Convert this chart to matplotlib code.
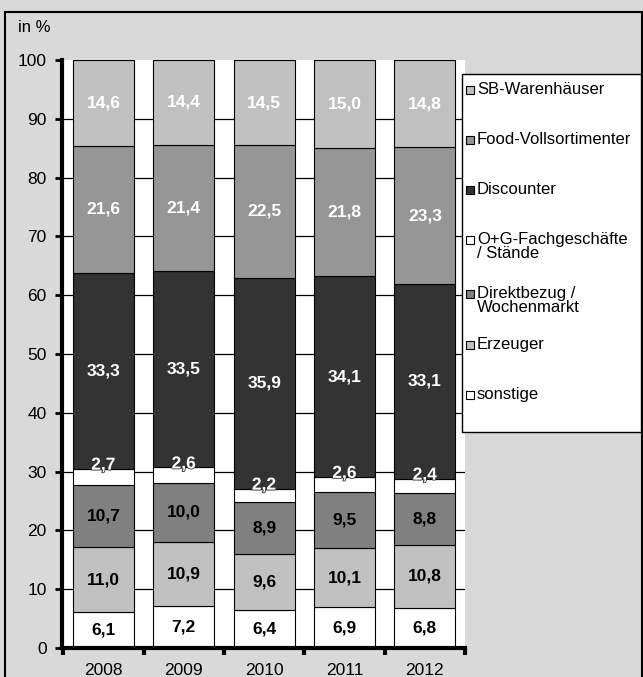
"""Stacked shares of fruit & vegetable purchases by retail channel, 2008-2012."""
import matplotlib.pyplot as plt
import matplotlib.patheffects as pe
from matplotlib.patches import Rectangle
import numpy as np

plt.rcParams["font.family"] = ["Liberation Sans", "DejaVu Sans"]

BACKGROUND = "#d9d9d9"

years = ["2008", "2009", "2010", "2011", "2012"]
sonstige = [6.1, 7.2, 6.4, 6.9, 6.8]
erzeuger = [11.0, 10.9, 9.6, 10.1, 10.8]
direktbezug = [10.7, 10.0, 8.9, 9.5, 8.8]
og_fach = [2.7, 2.6, 2.2, 2.6, 2.4]
discounter = [33.3, 33.5, 35.9, 34.1, 33.1]
food_voll = [21.6, 21.4, 22.5, 21.8, 23.3]
sb_waren = [14.6, 14.4, 14.5, 15.0, 14.8]

# bottom -> top
series = [
    ("sonstige", sonstige, "#ffffff", "black"),
    ("Erzeuger", erzeuger, "#c0c0c0", "black"),
    ("Direktbezug /\nWochenmarkt", direktbezug, "#808080", "black"),
    ("O+G-Fachgeschäfte\n/ Stände", og_fach, "#ffffff", "white"),
    ("Discounter", discounter, "#333333", "white"),
    ("Food-Vollsortimenter", food_voll, "#969696", "white"),
    ("SB-Warenhäuser", sb_waren, "#c0c0c0", "white"),
]


def fmt(v):
    return f"{v:.1f}".replace(".", ",")


def main():
    fig = plt.figure(figsize=(6.43, 6.77), dpi=100, facecolor=BACKGROUND)
    # outer frame (cropped at the bottom like the source)
    fig.patches.append(Rectangle((5 / 643, -0.1), 637 / 643, 1.1 - 12 / 677,
                                 transform=fig.transFigure, facecolor=BACKGROUND,
                                 edgecolor="black", linewidth=1.5, zorder=-10))

    ax = fig.add_axes([62 / 643, 1 - 648 / 677, (465 - 62) / 643, (648 - 60) / 677])
    ax.set_facecolor("white")
    x = np.arange(len(years))
    bottom = np.zeros(len(years))
    for name, vals, color, txt in series:
        vals = np.array(vals)
        ax.bar(x, vals, width=0.76, bottom=bottom, color=color,
               edgecolor="black", linewidth=0.8, zorder=3)
        for xi, b, v in zip(x, bottom, vals):
            if name.startswith("O+G"):
                ax.text(xi, b + v + 0.6, fmt(v), ha="center", va="center",
                        color="white", fontsize=12.5, fontweight="bold", zorder=5,
                        path_effects=[pe.withStroke(linewidth=1.2, foreground="#333333")])
            else:
                ax.text(xi, b + v / 2, fmt(v), ha="center", va="center",
                        color=txt, fontsize=12.5, fontweight="bold", zorder=5)
        bottom = bottom + vals

    ax.set_xlim(-0.515, 4.5)
    ax.set_ylim(0, 100)
    ax.set_yticks(np.arange(0, 101, 10))
    for yv in range(10, 100, 10):
        ax.axhline(yv, color="black", linewidth=0.9, zorder=1)
    ax.set_xticks(x)
    ax.set_xticklabels(years)
    ax.set_xticks(np.arange(-0.5, 4.6, 1), minor=True)
    ax.tick_params(axis="x", which="major", length=0, pad=11, labelsize=12.5)
    ax.tick_params(axis="x", which="minor", length=5, width=3, direction="out")
    ax.tick_params(axis="y", length=5, width=2, direction="out", labelsize=12.5, pad=6)
    for side in ("top", "right"):
        ax.spines[side].set_visible(False)
    ax.spines["left"].set_linewidth(3)
    ax.spines["bottom"].set_linewidth(3)
    ax.spines["bottom"].set_zorder(6)

    fig.text(18 / 643, 1 - 27 / 677, "in %", fontsize=12, va="center", ha="left")

    # legend box
    fig.patches.append(Rectangle((462 / 643, 1 - 432 / 677), (641 - 462) / 643,
                                 (432 - 74) / 677, transform=fig.transFigure,
                                 facecolor="white", edgecolor="black", linewidth=1,
                                 zorder=5))
    legend_y = [90, 140, 190, 240, 294, 345, 395]
    for (name, vals, color, txt), ly in zip(series[::-1], legend_y):
        fig.patches.append(Rectangle((466 / 643, 1 - (ly + 4) / 677), 8 / 643, 8 / 677,
                                     transform=fig.transFigure, facecolor=color,
                                     edgecolor="black", linewidth=0.8, zorder=6))
        fig.text(477 / 643, 1 - (ly - 8) / 677, name, fontsize=12, va="top",
                 ha="left", linespacing=0.95, zorder=7)

    fig.savefig("out.png", dpi=100, facecolor=BACKGROUND)
    plt.close(fig)


if __name__ == "__main__":
    main()
